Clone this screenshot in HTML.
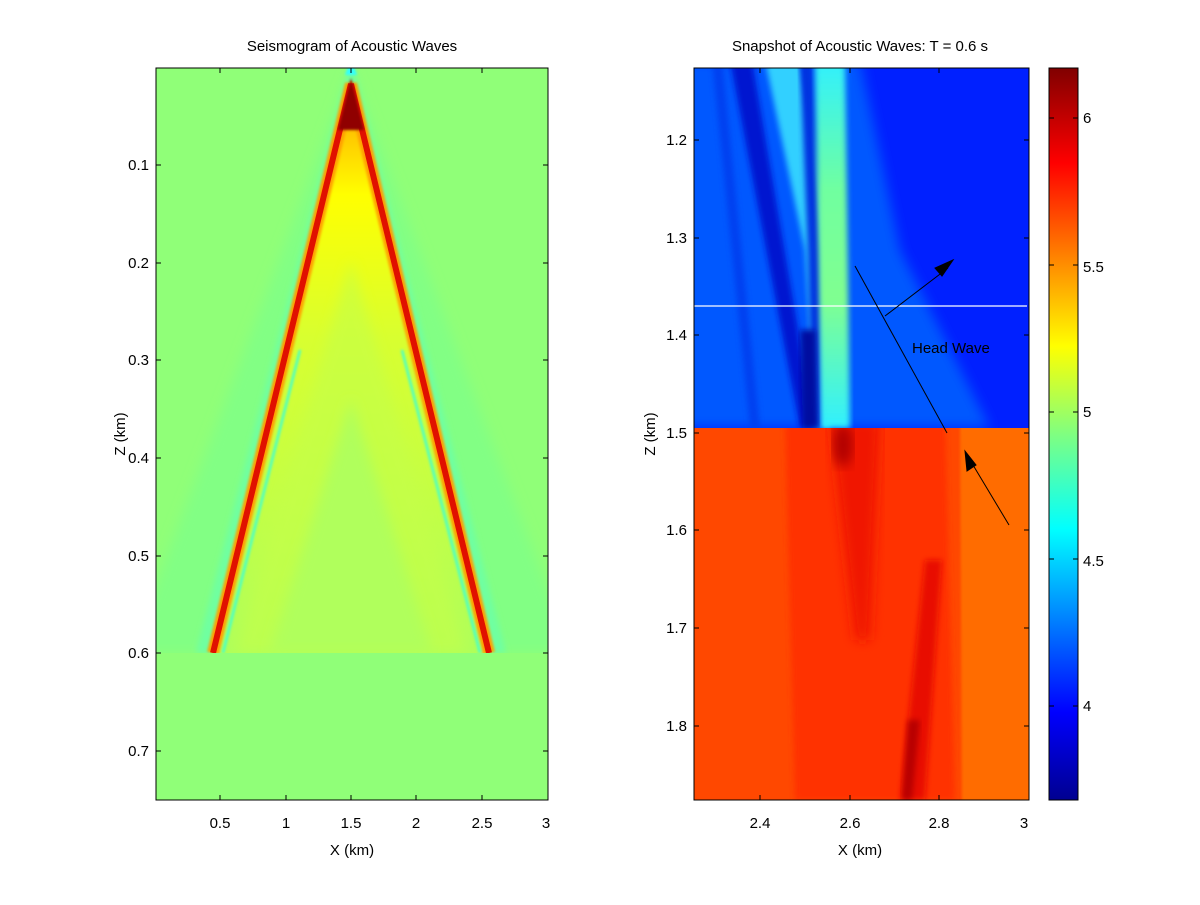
<!DOCTYPE html>
<html><head><meta charset="utf-8"><style>
body{margin:0;background:#fff;}
svg text{font-family:"Liberation Sans",sans-serif;font-size:15px;fill:#000;}
</style></head><body>
<svg width="1200" height="900" viewBox="0 0 1200 900" xmlns="http://www.w3.org/2000/svg">
<defs>
<linearGradient id="cb" x1="0" y1="1" x2="0" y2="0">
<stop offset="0" stop-color="#000090"/>
<stop offset="0.12" stop-color="#0000ff"/>
<stop offset="0.37" stop-color="#00ffff"/>
<stop offset="0.5" stop-color="#80ff80"/>
<stop offset="0.62" stop-color="#ffff00"/>
<stop offset="0.87" stop-color="#ff0000"/>
<stop offset="1" stop-color="#800000"/>
</linearGradient>
<linearGradient id="inner" x1="0" y1="0" x2="0" y2="1">
<stop offset="0" stop-color="#ff8000"/>
<stop offset="0.08" stop-color="#ffc000"/>
<stop offset="0.2" stop-color="#ffff00"/>
<stop offset="0.45" stop-color="#d8ff30"/>
<stop offset="1" stop-color="#b0ff5a"/>
</linearGradient>
<linearGradient id="greenstreak" x1="0" y1="0" x2="0" y2="1">
<stop offset="0" stop-color="#30f0ff"/>
<stop offset="0.35" stop-color="#70ffa0"/>
<stop offset="0.65" stop-color="#80ff90"/>
<stop offset="1" stop-color="#30f0ff"/>
</linearGradient>
<clipPath id="cl"><rect x="156" y="68" width="392" height="585"/></clipPath>
<clipPath id="cr"><rect x="694" y="68" width="335" height="360"/></clipPath>
<clipPath id="cr2"><rect x="694" y="428" width="335" height="372"/></clipPath>
<filter id="b3"><feGaussianBlur stdDeviation="3"/></filter>
<filter id="b6"><feGaussianBlur stdDeviation="6"/></filter>
<filter id="b1"><feGaussianBlur stdDeviation="1.2"/></filter>
</defs>

<!-- Left plot -->
<rect x="156" y="68" width="392" height="732" fill="#90ff78"/>
<g clip-path="url(#cl)">
<polygon points="351,70 130,653 572,653" fill="#82ff84" filter="url(#b6)"/>
<polygon points="351,60 196,653 506,653" fill="#70ffa0" filter="url(#b3)"/>
<polygon points="351,80 211,653 491,653" fill="url(#inner)"/>
<polygon points="351,260 236,653 466,653" fill="#c4ff48" opacity="0.6" filter="url(#b6)"/>
<polygon points="351,400 270,653 432,653" fill="#b0ff5c" filter="url(#b6)"/>
<polyline points="213,653 351,84 489,653" fill="none" stroke="#ffa000" stroke-width="12" stroke-linejoin="miter" filter="url(#b1)"/>
<polyline points="213,653 351,84 489,653" fill="none" stroke="#e01000" stroke-width="6" stroke-linejoin="miter"/>
<line x1="223" y1="653" x2="300" y2="350" stroke="#40ffd0" stroke-width="2.5" filter="url(#b1)"/>
<line x1="480" y1="653" x2="402" y2="350" stroke="#40ffd0" stroke-width="2.5" filter="url(#b1)"/>
<polygon points="351,78 338,130 364,130" fill="#900000" filter="url(#b1)"/>
<polygon points="351,60 345,75 357,75" fill="#30ffff" filter="url(#b1)"/>
</g>
<rect x="156" y="68" width="392" height="732" fill="none" stroke="#000" stroke-width="1"/>
<g stroke="#000" stroke-width="1">
<line x1="220" y1="800" x2="220" y2="795"/><line x1="220" y1="68" x2="220" y2="73"/>
<line x1="286" y1="800" x2="286" y2="795"/><line x1="286" y1="68" x2="286" y2="73"/>
<line x1="351" y1="800" x2="351" y2="795"/><line x1="351" y1="68" x2="351" y2="73"/>
<line x1="416" y1="800" x2="416" y2="795"/><line x1="416" y1="68" x2="416" y2="73"/>
<line x1="482" y1="800" x2="482" y2="795"/><line x1="482" y1="68" x2="482" y2="73"/>
<line x1="156" y1="165" x2="161" y2="165"/><line x1="548" y1="165" x2="543" y2="165"/>
<line x1="156" y1="263" x2="161" y2="263"/><line x1="548" y1="263" x2="543" y2="263"/>
<line x1="156" y1="360" x2="161" y2="360"/><line x1="548" y1="360" x2="543" y2="360"/>
<line x1="156" y1="458" x2="161" y2="458"/><line x1="548" y1="458" x2="543" y2="458"/>
<line x1="156" y1="556" x2="161" y2="556"/><line x1="548" y1="556" x2="543" y2="556"/>
<line x1="156" y1="653" x2="161" y2="653"/><line x1="548" y1="653" x2="543" y2="653"/>
<line x1="156" y1="751" x2="161" y2="751"/><line x1="548" y1="751" x2="543" y2="751"/>
</g>
<g text-anchor="middle">
<text x="220" y="828">0.5</text><text x="286" y="828">1</text><text x="351" y="828">1.5</text>
<text x="416" y="828">2</text><text x="482" y="828">2.5</text><text x="546" y="828">3</text>
<text x="352" y="855">X (km)</text>
<text x="352" y="51">Seismogram of Acoustic Waves</text>
</g>
<g text-anchor="end">
<text x="149" y="170">0.1</text><text x="149" y="268">0.2</text><text x="149" y="365">0.3</text>
<text x="149" y="463">0.4</text><text x="149" y="561">0.5</text><text x="149" y="658">0.6</text>
<text x="149" y="756">0.7</text>
</g>
<text transform="translate(125,434) rotate(-90)" text-anchor="middle">Z (km)</text>

<!-- Right plot top -->
<rect x="694" y="68" width="335" height="360" fill="#0020ff"/>
<g clip-path="url(#cr)">
<polygon points="680,60 860,60 900,250 990,428 680,428" fill="#0058ff" filter="url(#b6)"/>
<polygon points="730,60 752,60 815,428 800,428" fill="#0018d0" filter="url(#b3)"/>
<polygon points="765,60 800,60 830,250 830,428 815,428 805,250" fill="#30d0ff" filter="url(#b3)"/>
<polygon points="800,60 812,60 822,250 822,428 812,428 808,250" fill="#0030e0" filter="url(#b3)"/>
<polygon points="800,330 816,330 818,428 803,428" fill="#0010a0" filter="url(#b3)"/>
<polygon points="815,60 845,60 850,428 822,428" fill="url(#greenstreak)" filter="url(#b3)"/>
<polygon points="712,60 722,60 760,428 750,428" fill="#0040f0" filter="url(#b3)"/>
</g>
<!-- Right plot bottom -->
<rect x="694" y="428" width="335" height="372" fill="#ff4800"/>
<g clip-path="url(#cr2)">
<polygon points="785,420 945,420 955,800 795,800" fill="#ff3000" filter="url(#b3)"/>
<polygon points="945,420 1040,420 1040,810 962,810 960,420" fill="#ff6c00" filter="url(#b1)"/>
<polygon points="830,420 880,420 870,640 855,640" fill="#f01800" filter="url(#b6)"/>
<ellipse cx="843" cy="445" rx="10" ry="22" fill="#b00000" filter="url(#b6)"/>
<polygon points="925,560 942,560 925,800 900,800" fill="#e81000" filter="url(#b3)"/>
<polygon points="908,720 920,720 912,800 902,800" fill="#b80000" filter="url(#b3)"/>
</g>
<line x1="694" y1="306" x2="1027" y2="306" stroke="#fff" stroke-width="1.2"/>
<g stroke="#000" stroke-width="1" fill="#000">
<line x1="855" y1="266" x2="947" y2="433"/>
<line x1="885" y1="316" x2="948" y2="268"/>
<polygon points="953,260 935,268 942,276"/>
<line x1="1009" y1="525" x2="970" y2="460"/>
<polygon points="965,451 967,471 976,465"/>
</g>
<text x="912" y="353">Head Wave</text>
<rect x="694" y="68" width="335" height="732" fill="none" stroke="#000" stroke-width="1"/>
<g stroke="#000" stroke-width="1">
<line x1="760" y1="800" x2="760" y2="795"/><line x1="760" y1="68" x2="760" y2="73"/>
<line x1="850" y1="800" x2="850" y2="795"/><line x1="850" y1="68" x2="850" y2="73"/>
<line x1="939" y1="800" x2="939" y2="795"/><line x1="939" y1="68" x2="939" y2="73"/>
<line x1="694" y1="140" x2="699" y2="140"/><line x1="1029" y1="140" x2="1024" y2="140"/>
<line x1="694" y1="238" x2="699" y2="238"/><line x1="1029" y1="238" x2="1024" y2="238"/>
<line x1="694" y1="335" x2="699" y2="335"/><line x1="1029" y1="335" x2="1024" y2="335"/>
<line x1="694" y1="433" x2="699" y2="433"/><line x1="1029" y1="433" x2="1024" y2="433"/>
<line x1="694" y1="530" x2="699" y2="530"/><line x1="1029" y1="530" x2="1024" y2="530"/>
<line x1="694" y1="628" x2="699" y2="628"/><line x1="1029" y1="628" x2="1024" y2="628"/>
<line x1="694" y1="726" x2="699" y2="726"/><line x1="1029" y1="726" x2="1024" y2="726"/>
</g>
<g text-anchor="middle">
<text x="760" y="828">2.4</text><text x="850" y="828">2.6</text><text x="939" y="828">2.8</text><text x="1024" y="828">3</text>
<text x="860" y="855">X (km)</text>
<text x="860" y="51">Snapshot of Acoustic Waves: T = 0.6 s</text>
</g>
<g text-anchor="end">
<text x="687" y="145">1.2</text><text x="687" y="243">1.3</text><text x="687" y="340">1.4</text>
<text x="687" y="438">1.5</text><text x="687" y="535">1.6</text><text x="687" y="633">1.7</text>
<text x="687" y="731">1.8</text>
</g>
<text transform="translate(655,434) rotate(-90)" text-anchor="middle">Z (km)</text>

<!-- Colorbar -->
<rect x="1049" y="68" width="29" height="732" fill="url(#cb)" stroke="#000" stroke-width="1"/>
<g stroke="#000" stroke-width="1">
<line x1="1049" y1="118" x2="1054" y2="118"/><line x1="1078" y1="118" x2="1073" y2="118"/>
<line x1="1049" y1="265" x2="1054" y2="265"/><line x1="1078" y1="265" x2="1073" y2="265"/>
<line x1="1049" y1="412" x2="1054" y2="412"/><line x1="1078" y1="412" x2="1073" y2="412"/>
<line x1="1049" y1="559" x2="1054" y2="559"/><line x1="1078" y1="559" x2="1073" y2="559"/>
<line x1="1049" y1="706" x2="1054" y2="706"/><line x1="1078" y1="706" x2="1073" y2="706"/>
</g>
<text x="1083" y="123">6</text><text x="1083" y="272">5.5</text><text x="1083" y="417">5</text>
<text x="1083" y="566">4.5</text><text x="1083" y="711">4</text>
</svg>
</body></html>
